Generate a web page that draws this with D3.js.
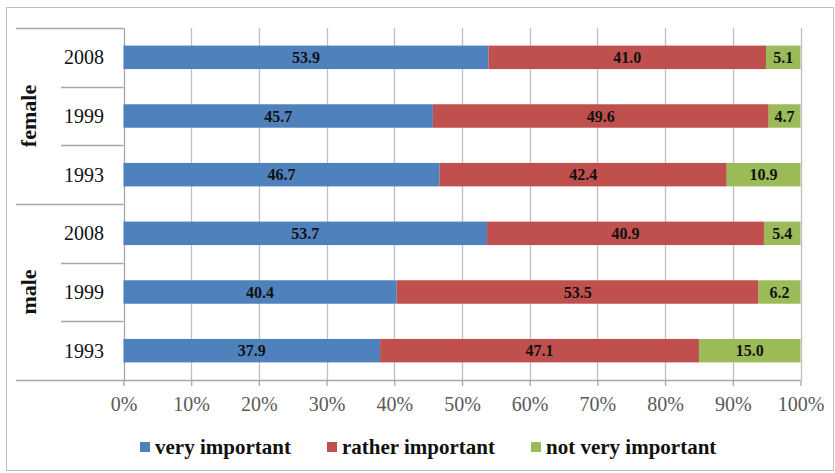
<!DOCTYPE html>
<html>
<head>
<meta charset="utf-8">
<script src="https://cdn.jsdelivr.net/npm/d3@7"></script>
<style>
  body { margin: 0; background: #fff; }
  svg { display: block; }
</style>
</head>
<body>
<div id="chart"></div>
<script>
// rows top to bottom
var groups = ["female", "male"];
var years = ["2008", "1999", "1993"];
var seriesNames = ["very important", "rather important", "not very important"];
var veryImportant = [53.9, 45.7, 46.7, 53.7, 40.4, 37.9];
var ratherImportant = [41.0, 49.6, 42.4, 40.9, 53.5, 47.1];
var notVeryImportant = [5.1, 4.7, 10.9, 5.4, 6.2, 15.0];
var tickValues = [0, 0.1, 0.2, 0.3, 0.4, 0.5, 0.6, 0.7, 0.8, 0.9, 1];

var colors = ["#4f81bd", "#c0504d", "#9bbb59"];
var width = 835;
var height = 473;
var FONT = "'Liberation Serif', 'Times New Roman', serif";

var rows = [];
groups.forEach(function(g, gi) {
  years.forEach(function(yr, yi) {
    var i = gi * years.length + yi;
    rows.push({
      id: g + "-" + yr,
      group: g,
      year: yr,
      "very important": veryImportant[i],
      "rather important": ratherImportant[i],
      "not very important": notVeryImportant[i]
    });
  });
});

var stacked = d3.stack()
  .keys(seriesNames)
  .offset(d3.stackOffsetExpand)(rows);

var plotLeft = 123.5, plotRight = 800.5, plotTop = 28, plotBottom = 380;

var x = d3.scaleLinear().domain([0, 1]).range([plotLeft, plotRight]);
var y = d3.scaleBand()
  .domain(rows.map(function(d) { return d.id; }))
  .range([plotTop, plotBottom])
  .paddingInner(0.6)
  .paddingOuter(0.3);

var svg = d3.select("#chart").append("svg")
  .attr("width", width)
  .attr("height", height);

// outer frame
svg.append("rect")
  .attr("x", 6.5).attr("y", 7.5)
  .attr("width", 827).attr("height", 463)
  .attr("fill", "none")
  .attr("stroke", "#bfbfbf");

// vertical grid
svg.append("g")
  .selectAll("line")
  .data(tickValues)
  .enter()
  .append("line")
  .attr("x1", function(d) { return Math.round(x(d)) + 0.5; })
  .attr("x2", function(d) { return Math.round(x(d)) + 0.5; })
  .attr("y1", plotTop)
  .attr("y2", plotBottom)
  .attr("stroke", function(d) { return d == 0 ? "#a6a6a6" : "#bfbfbf"; })
  .attr("stroke-width", 1.3);

// bars
var layer = svg.append("g")
  .selectAll("g")
  .data(stacked)
  .enter()
  .append("g")
  .attr("fill", function(d, i) { return colors[i]; });

layer.selectAll("rect")
  .data(function(d) { return d; })
  .enter()
  .append("rect")
  .attr("x", function(d) { return x(d[0]); })
  .attr("y", function(d) { return y(d.data.id); })
  .attr("width", function(d) { return x(d[1]) - x(d[0]); })
  .attr("height", y.bandwidth());

// value labels
layer.selectAll("text")
  .data(function(d) { return d.map(function(p) { return { p: p, key: d.key }; }); })
  .enter()
  .append("text")
  .attr("x", function(d) { return (x(d.p[0]) + x(d.p[1])) / 2; })
  .attr("y", function(d) { return y(d.p.data.id) + y.bandwidth() / 2; })
  .attr("dy", "0.35em")
  .attr("text-anchor", "middle")
  .attr("fill", "#111")
  .style("font-family", FONT)
  .style("font-weight", "bold")
  .style("font-size", "16px")
  .text(function(d) { return d.p.data[d.key].toFixed(1); });

// bottom axis
var xAxis = d3.axisBottom(x)
  .tickValues(tickValues)
  .tickSize(6)
  .tickFormat(d3.format(".0%"));

var gx = svg.append("g")
  .attr("transform", "translate(0," + plotBottom + ")")
  .call(xAxis);
gx.select(".domain").remove();
gx.selectAll(".tick line").attr("stroke", "#a6a6a6").attr("stroke-width", 1.3);
gx.selectAll(".tick text")
  .attr("y", 17)
  .attr("dy", "0.71em")
  .attr("fill", "#595959")
  .style("font-family", FONT)
  .style("font-size", "20px");

svg.append("line")
  .attr("x1", 16).attr("x2", plotRight)
  .attr("y1", plotBottom + 0.5).attr("y2", plotBottom + 0.5)
  .attr("stroke", "#a6a6a6").attr("stroke-width", 1.3);

// category axis: year labels
var step = y.step();
svg.append("g")
  .selectAll("text")
  .data(rows)
  .enter()
  .append("text")
  .attr("x", 104)
  .attr("y", function(d) { return y(d.id) + y.bandwidth() / 2; })
  .attr("dy", "0.35em")
  .attr("text-anchor", "end")
  .attr("fill", "#111")
  .style("font-family", FONT)
  .style("font-size", "20px")
  .text(function(d) { return d.year; });

// divider lines between rows and groups
var rowEdges = rows.map(function(d, i) {
  return { yy: y(d.id) - step * y.paddingInner() / 2, major: i % years.length == 0 };
});
svg.append("g")
  .selectAll("line")
  .data(rowEdges)
  .enter()
  .append("line")
  .attr("x1", function(d) { return d.major ? 16 : 61; })
  .attr("x2", plotLeft)
  .attr("y1", function(d) { return Math.round(d.yy) + 0.5; })
  .attr("y2", function(d) { return Math.round(d.yy) + 0.5; })
  .attr("stroke", "#a6a6a6")
  .attr("stroke-width", 1.3);

// group labels
svg.append("g")
  .selectAll("text")
  .data(groups)
  .enter()
  .append("text")
  .attr("transform", function(g) {
    var first = y(g + "-" + years[0]);
    var last = y(g + "-" + years[years.length - 1]) + y.bandwidth();
    return "translate(28," + ((first + last) / 2) + ") rotate(-90)";
  })
  .attr("dy", "0.35em")
  .attr("text-anchor", "middle")
  .attr("fill", "#111")
  .style("font-family", FONT)
  .style("font-weight", "bold")
  .style("font-size", "22px")
  .text(function(d) { return d; });

// legend
var legendX = [140, 327, 531];
var legend = svg.append("g")
  .selectAll("g")
  .data(seriesNames)
  .enter()
  .append("g")
  .attr("transform", function(d, i) { return "translate(" + legendX[i] + ",442)"; });

legend.append("rect")
  .attr("width", 10).attr("height", 10)
  .attr("fill", function(d, i) { return colors[i]; });

legend.append("text")
  .attr("x", 15)
  .attr("y", 5)
  .attr("dy", "0.35em")
  .attr("fill", "#111")
  .style("font-family", FONT)
  .style("font-weight", "bold")
  .style("font-size", "21px")
  .text(function(d) { return d; });
</script>
</body>
</html>
